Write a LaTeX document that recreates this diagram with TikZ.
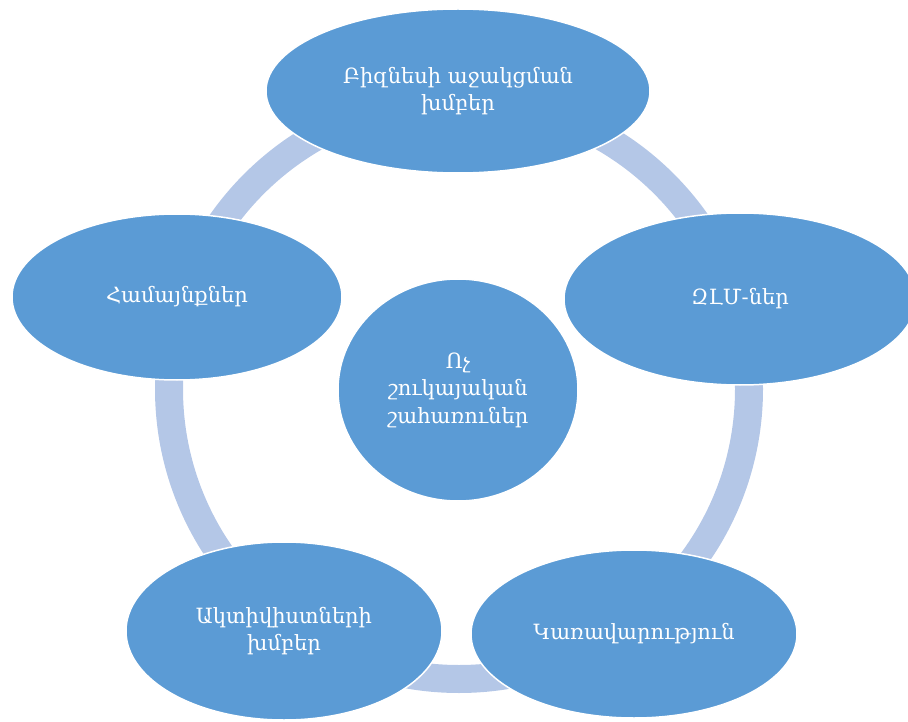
\documentclass[tikz,border=0pt]{standalone}
\usepackage{fontspec}
\setmainfont{DejaVu Serif}
\usetikzlibrary{shapes.geometric}
\definecolor{nodeblue}{HTML}{5B9BD5}
\definecolor{ringblue}{HTML}{B4C7E7}
\begin{document}
\begin{tikzpicture}[x=1pt,y=-1pt,
  bub/.style={ellipse, fill=nodeblue, draw=white, line width=1.5pt, inner sep=0pt,
    text=white, align=center, font=\fontsize{21}{27.5}\selectfont},
  ringline/.style={draw=ringblue, line width=28pt}]
\useasboundingbox (0,0) rectangle (908,722);
\coordinate (c) at (459,389);
\draw[ringline] (c) circle[radius=290];
\node[bub, minimum width=384pt, minimum height=164pt] (top) at (458,91) {Բիզնեսի աջակցման\\խմբեր};
\node[bub, minimum width=352pt, minimum height=172pt] (right) at (740,299) {ԶԼՄ-ներ};
\node[bub, minimum width=326pt, minimum height=168pt] (bright) at (634,634) {Կառավարություն};
\node[bub, minimum width=316pt, minimum height=178pt] (bleft) at (284,631) {Ակտիվիստների\\խմբեր};
\node[bub, minimum width=330pt, minimum height=166pt] (left) at (177,297) {Համայնքներ};
\node[bub, minimum width=240pt, minimum height=222pt] (center) at (458,390) {Ոչ\\շուկայական\\շահառուներ};
\end{tikzpicture}
\end{document}
